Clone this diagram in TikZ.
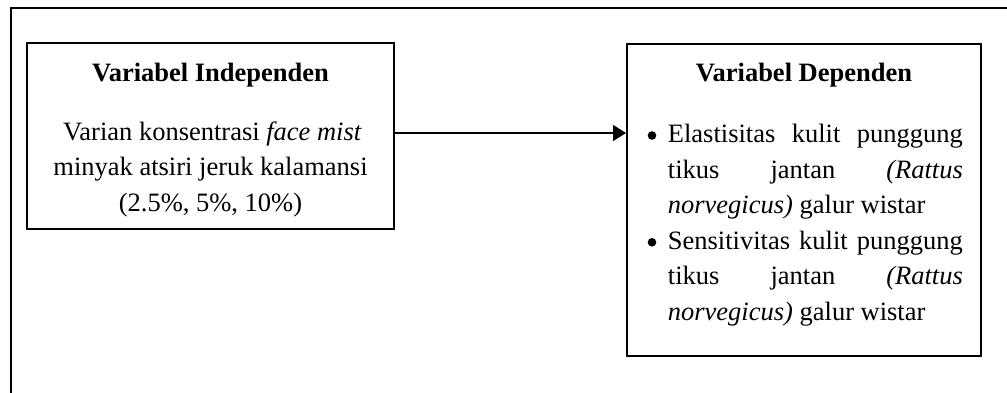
\documentclass[tikz,border=0pt]{standalone}
\usepackage{fontspec}
\setmainfont{Liberation Serif}
\usetikzlibrary{arrows.meta}
\begin{document}
\begin{tikzpicture}[x=0.5pt,y=-0.5pt,
  boxnode/.style={draw, line width=1pt, inner sep=0pt},
  txt/.style={inner sep=0pt, anchor=base, font=\fontsize{13.25}{17.85}\selectfont},
  ttl/.style={txt, font=\fontsize{13.25}{17.85}\selectfont\bfseries},
  jline/.style={txt, anchor=base west},
  bul/.style={circle, fill=black, inner sep=0pt, minimum size=4.3pt},
  arr/.style={line width=0.75pt, -{Triangle[length=6.5pt,width=8pt]}}]
\useasboundingbox (0,0) rectangle (1007,392);
\clip (0,0) rectangle (1007,392);
\draw[line width=1.3pt] (11,8) rectangle (1030,420);
% boxes
\node[boxnode, minimum width=183.5pt, minimum height=93pt] (indep) at (210.5,136) {};
\node[boxnode, minimum width=177pt, minimum height=156pt] (dep) at (804,200) {};
% arrow
\draw[arr] ([yshift=1.5pt]indep.east) -- ([yshift=1.5pt]indep.east -| dep.west);
% left texts
\node[ttl] (ti) at (210.5,81) {Variabel Independen};
\node[txt] (l1) at (212.5,140) {Varian konsentrasi \textit{face mist}};
\node[txt] (l2) at (210.5,175.6) {minyak atsiri jeruk kalamansi};
\node[txt] (l3) at (210.5,211.2) {(2.5\%, 5\%, 10\%)};
% right texts
\node[ttl] (td) at (804,81) {Variabel Dependen};
\node[bul] (b1) at (652,135.5) {};
\node[jline] (r1) at (667.5,142.5) {\makebox[147.5pt][s]{Elastisitas kulit punggung}};
\node[jline] (r2) at (667.5,178.1) {\makebox[147.5pt][s]{tikus jantan \textit{(Rattus}}};
\node[jline] (r3) at (667.5,213.7) {\textit{norvegicus)} galur wistar};
\node[bul] (b2) at (652,242.3) {};
\node[jline] (r4) at (667.5,249.3) {\makebox[147.5pt][s]{Sensitivitas kulit punggung}};
\node[jline] (r5) at (667.5,284.9) {\makebox[147.5pt][s]{tikus jantan \textit{(Rattus}}};
\node[jline] (r6) at (667.5,320.5) {\textit{norvegicus)} galur wistar};
\end{tikzpicture}
\end{document}
